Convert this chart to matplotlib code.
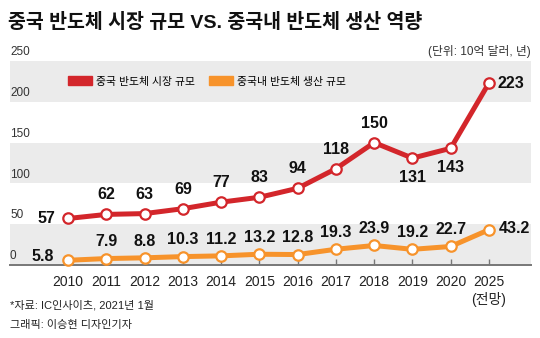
import matplotlib.pyplot as plt
from matplotlib.patches import Patch
from matplotlib import font_manager

# fonts: narrow latin if present, Korean fallback
names = {f.name for f in font_manager.fontManager.ttflist}
num_font = ['Liberation Sans Narrow'] if 'Liberation Sans Narrow' in names else ['Liberation Sans']
plt.rcParams['font.family'] = num_font + ['Noto Sans CJK KR', 'DejaVu Sans']

# data
years = ['2010', '2011', '2012', '2013', '2014', '2015', '2016',
         '2017', '2018', '2019', '2020', '2025\n(전망)']
market = [57, 62, 63, 69, 77, 83, 94, 118, 150, 131, 143, 223]
production = [5.8, 7.9, 8.8, 10.3, 11.2, 13.2, 12.8, 19.3, 23.9, 19.2, 22.7, 43.2]
yticks = [0, 50, 100, 150, 200, 250]

red = '#d3262b'
orange = '#f7932b'
band = '#ebebeb'

fig = plt.figure(figsize=(5.4, 3.38), dpi=100)
ax = fig.add_axes([10 / 540, 73 / 338, 521 / 540, 204 / 338])

x = list(range(len(years)))
ax.set_xlim(-1.52, 12.1)
ax.set_ylim(0, 250)

# grey bands
for lo in (0, 100, 200):
    ax.axhspan(lo, lo + 50, color=band, lw=0, zorder=0)

ax.plot(x, market, color=red, lw=3.6, marker='o', ms=7.5, mfc='white',
        mec=red, mew=1.6, zorder=3, clip_on=False)
ax.plot(x, production, color=orange, lw=3.6, marker='o', ms=7.5, mfc='white',
        mec=orange, mew=1.6, zorder=3, clip_on=False)

# value labels
last = len(x) - 1
for i, v in enumerate(market):
    if i == 0:
        off, ha = (-9, 0), 'right'
    elif i == last:
        off, ha = (6, 0), 'left'
    elif i in (9, 10):
        off, ha = (0, -14), 'center'
    else:
        off, ha = (0, 14), 'center'
    ax.annotate(f'{v:g}', (i, v), xytext=off, textcoords='offset points',
                ha=ha, va='center', fontsize=11.5, fontweight='bold',
                color='#111111', zorder=5)

for i, v in enumerate(production):
    if i == 0:
        off, ha = (-10, 3), 'right'
    elif i == last:
        off, ha = (7, 1), 'left'
    else:
        off, ha = (0, 12), 'center'
    ax.annotate(f'{v:g}', (i, v), xytext=off, textcoords='offset points',
                ha=ha, va='center', fontsize=11.5, fontweight='bold',
                color='#111111', zorder=5)

# y labels sitting on top of each gridline
for t in yticks:
    ax.annotate(str(t), (0, t), xycoords=('axes fraction', 'data'),
                xytext=(0, 2), textcoords='offset points',
                ha='left', va='bottom', fontsize=8.5, color='#333333')
ax.set_yticks([])

ax.set_xticks(x)
ax.set_xticklabels(years, fontsize=10, color='#222222', linespacing=1.3)
ax.tick_params(axis='x', direction='in', length=4, width=1, color='#777777', pad=7)

for s in ('top', 'right', 'left'):
    ax.spines[s].set_visible(False)
ax.spines['bottom'].set_color('#777777')
ax.spines['bottom'].set_linewidth(1.4)

ax.annotate('(단위: 10억 달러, 년)', (1, 250), xycoords=('axes fraction', 'data'),
            xytext=(0, 2), textcoords='offset points', ha='right', va='bottom',
            fontsize=8.5, color='#333333')

handles = [Patch(color=red, label='중국 반도체 시장 규모'),
           Patch(color=orange, label='중국내 반도체 생산 규모')]
ax.legend(handles=handles, ncol=2, frameon=False, fontsize=7.8,
          loc='center left', bbox_to_anchor=(58 / 521, 0.9),
          handlelength=2.2, handleheight=0.9, handletextpad=0.4,
          columnspacing=1.3, borderaxespad=0, borderpad=0)

fig.text(8 / 540, 1 - 22 / 338, '중국 반도체 시장 규모 VS. 중국내 반도체 생산 역량',
         fontsize=14, fontweight='bold', va='center', ha='left', color='#111111')
fig.text(10 / 540, 1 - 305 / 338, '*자료: IC인사이츠, 2021년 1월',
         fontsize=8, va='center', ha='left', color='#222222')
fig.text(10 / 540, 1 - 325 / 338, '그래픽: 이승현 디자인기자',
         fontsize=8, va='center', ha='left', color='#222222')

fig.savefig('out.png', dpi=100)
